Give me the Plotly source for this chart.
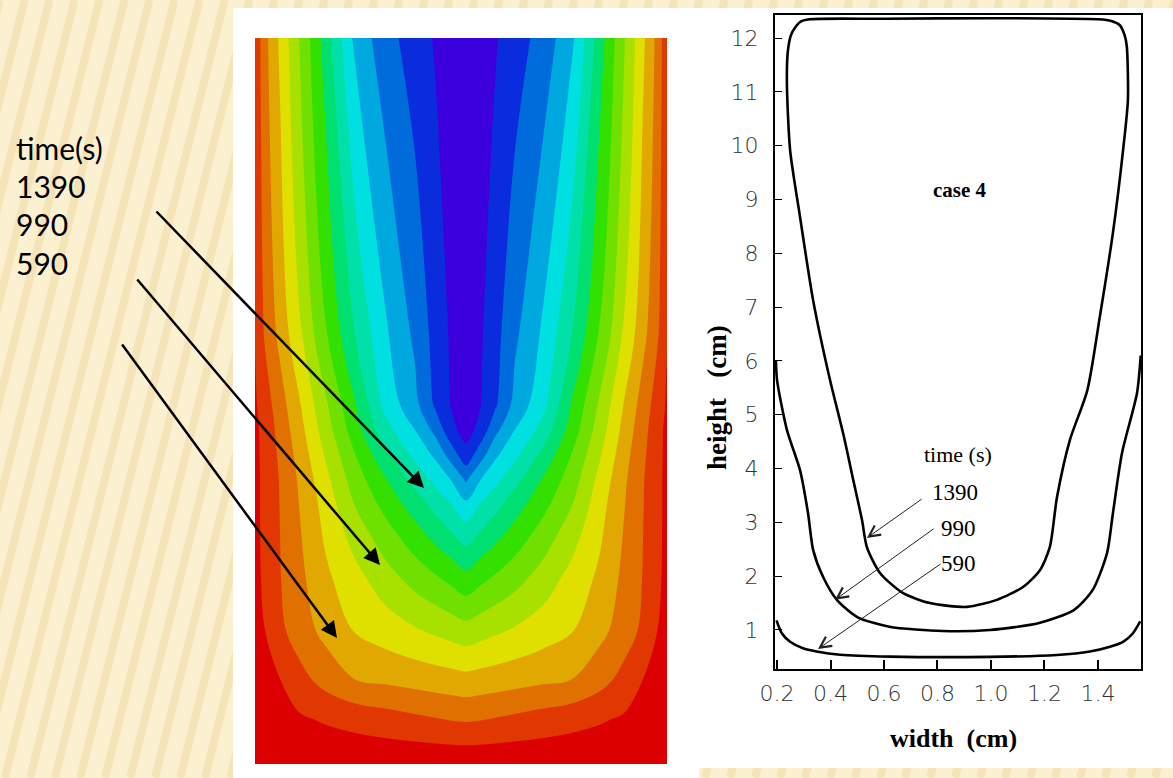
import plotly.graph_objects as go

W, H = 1173, 778

# ---------------- left panel: solidification field (band level) -------------
field_x = [0.0, 0.0243, 0.0607, 0.1092, 0.1699, 0.2427, 0.3155, 0.3883, 0.4369, 0.4782, 0.5121,
           0.5444, 0.5837, 0.6301, 0.6995, 0.7687, 0.8381, 0.8959, 0.9422, 0.9769, 1.0]
field_y = [0.0, 0.0193, 0.0606, 0.1157, 0.1846, 0.2534, 0.3223, 0.3567, 0.3912, 0.4256,
           0.4601, 0.4945, 0.5978, 1.0]
field_z = [
    [14.3] * 21,
    [14.2, 14.2, 14.15, 14.1, 14.0, 13.9, 13.85, 13.8, 13.75, 13.72, 13.7,
     13.72, 13.75, 13.8, 13.85, 13.9, 14.0, 14.1, 14.15, 14.2, 14.2],
    [14.15, 14.04, 13.87, 13.64, 13.41, 13.19, 12.97, 12.74, 12.59, 12.47, 12.42,
     12.47, 12.59, 12.74, 12.97, 13.19, 13.41, 13.64, 13.87, 14.04, 14.15],
    [14.1, 13.87, 13.52, 12.83, 12.16, 11.51, 11.32, 11.13, 11.01, 10.91, 10.82,
     10.91, 11.01, 11.13, 11.32, 11.51, 12.16, 12.83, 13.52, 13.87, 14.1],
    [14.0, 13.5, 12.71, 11.98, 11.21, 10.43, 10.01, 9.59, 9.31, 9.07, 8.87,
     9.07, 9.31, 9.59, 10.01, 10.43, 11.21, 11.98, 12.71, 13.5, 14.0],
    [13.8, 13.3, 12.55, 11.75, 10.73, 9.87, 8.99, 8.16, 7.7, 7.27, 6.88,
     7.27, 7.7, 8.16, 8.99, 9.87, 10.73, 11.75, 12.55, 13.3, 13.8],
    [13.76, 13.25, 12.5, 11.55, 10.33, 9.0, 7.82, 6.77, 6.04, 5.41, 4.87,
     5.41, 6.04, 6.77, 7.82, 9.0, 10.33, 11.55, 12.5, 13.25, 13.76],
    [13.76, 13.24, 12.47, 11.45, 10.14, 8.47, 7.21, 6.03, 5.2, 4.52, 3.75,
     4.52, 5.2, 6.03, 7.21, 8.47, 10.14, 11.45, 12.47, 13.24, 13.76],
    [13.76, 13.24, 12.44, 11.33, 9.83, 8.0, 6.61, 5.18, 4.26, 3.43, 2.37,
     3.43, 4.26, 5.18, 6.61, 8.0, 9.83, 11.33, 12.44, 13.24, 13.76],
    [13.76, 13.19, 12.32, 11.11, 9.43, 7.53, 5.79, 4.26, 3.33, 1.97, 0.87,
     1.97, 3.33, 4.26, 5.79, 7.53, 9.43, 11.11, 12.32, 13.19, 13.76],
    [13.75, 13.13, 12.17, 10.83, 9.03, 6.96, 4.88, 3.5, 2.23, 0.75, 0.1,
     0.75, 2.23, 3.5, 4.88, 6.96, 9.03, 10.83, 12.17, 13.13, 13.75],
    [13.63, 12.97, 11.95, 10.56, 8.71, 6.57, 4.23, 2.79, 1.38, 0.41, -0.2,
     0.41, 1.38, 2.79, 4.23, 6.57, 8.71, 10.56, 11.95, 12.97, 13.63],
    [13.45, 12.35, 11.17, 9.58, 7.58, 5.43, 3.65, 2.26, 1.15, 0.3, -0.4,
     0.3, 1.15, 2.26, 3.65, 5.43, 7.58, 9.58, 11.17, 12.35, 13.45],
    [13.3, 11.8, 10.32, 8.42, 6.1, 3.23, 1.91, 1.0, 0.41, -0.09, -0.5,
     -0.09, 0.41, 1.0, 1.91, 3.23, 6.1, 8.42, 10.32, 11.8, 13.3],
]
band_colors = ['#3C00DC', '#0A2CDC', '#006CDC', '#00A8E0', '#00E0E0', '#00E0A8', '#00E070',
               '#34E000', '#70E000', '#A8E000', '#E0E000', '#E0A800', '#E07000', '#E03800', '#DC0000']

# ---------------- right panel: solid/liquid interface curves -------------
x_1390 = [0.91, 0.772, 0.67, 0.585, 0.536, 0.518, 0.485, 0.447, 0.398, 0.335, 0.286, 0.249, 0.237,
          0.241, 0.255, 0.286, 0.323, 0.6, 1.0, 1.4, 1.45, 1.482, 1.5, 1.508, 1.512, 1.494, 1.456,
          1.407, 1.36, 1.295, 1.247, 1.22, 1.183, 1.12, 1.022, 0.91]
y_1390 = [1.43, 1.5, 1.69, 2.06, 2.54, 3.04, 3.79, 4.66, 5.65, 7.13, 8.68, 9.92, 11.17,
          11.78, 12.09, 12.3, 12.35, 12.36, 12.37, 12.35, 12.32, 12.24, 12.05, 11.84, 10.85, 9.92, 8.38,
          6.82, 5.45, 4.53, 3.47, 2.54, 2.11, 1.8, 1.56, 1.43]

x_990 = [0.196, 0.2, 0.237, 0.286, 0.316, 0.335, 0.372, 0.424, 0.5, 0.62, 0.82, 0.996, 1.18,
         1.31, 1.38, 1.434, 1.456, 1.49, 1.546, 1.56]
y_990 = [6.0, 5.65, 4.72, 3.97, 3.17, 2.49, 1.99, 1.56, 1.24, 1.06, 0.98, 1.0, 1.13,
         1.37, 1.74, 2.43, 3.17, 4.29, 5.4, 6.1]

x_590 = [0.198, 0.218, 0.249, 0.297, 0.348, 0.436, 0.622, 0.996, 1.246, 1.37, 1.445, 1.494, 1.531, 1.558]
y_590 = [1.18, 0.94, 0.78, 0.66, 0.6, 0.54, 0.505, 0.5, 0.535, 0.6, 0.69, 0.78, 0.94, 1.16]

x_ticks = [0.2, 0.4, 0.6, 0.8, 1.0, 1.2, 1.4]
x_tick_labels = ['0.2', '0.4', '0.6', '0.8', '1.0', '1.2', '1.4']
y_ticks = [1, 2, 3, 4, 5, 6, 7, 8, 9, 10, 11, 12]

time_labels = ['1390', '990', '590']
label_pos = [(0.865, 3.55), (0.88, 2.88), (0.877, 2.23)]
arrow_tail = [(0.746, 3.45), (0.791, 2.90), (0.817, 2.245)]
arrow_head = [(0.536, 2.71), (0.417, 1.56), (0.353, 0.647)]

fig = go.Figure()

fig.add_trace(go.Contour(
    x=field_x, y=field_y, z=field_z,
    colorscale=[[i / 14, c] for i, c in enumerate(band_colors)],
    contours=dict(start=0.5, end=13.5, size=1, coloring='fill'),
    line=dict(width=0, smoothing=1.0),
    showscale=False, hoverinfo='skip', xaxis='x', yaxis='y'))

for xs, ys in [(x_1390, y_1390), (x_990, y_990), (x_590, y_590)]:
    fig.add_trace(go.Scatter(x=xs, y=ys, mode='lines', xaxis='x2', yaxis='y2',
                             line=dict(color='black', width=2.6, shape='spline', smoothing=0.7),
                             showlegend=False, hoverinfo='skip'))

# ---------------- decoration: striped slide background + white panels -------------
shapes = []
for xb in range(-220, W + 20, 25):
    shapes.append(dict(type='line', xref='paper', yref='paper', layer='below',
                       x0=xb / W, y0=0, x1=(xb + 0.25 * H) / W, y1=1,
                       line=dict(color='rgba(228,192,118,0.24)', width=8)))
shapes.append(dict(type='rect', xref='paper', yref='paper', layer='below',
                   x0=233 / W, x1=699 / W, y0=0, y1=1 - 8 / H,
                   fillcolor='white', line=dict(width=0)))
shapes.append(dict(type='rect', xref='paper', yref='paper', layer='below',
                   x0=699 / W, x1=1, y0=1 - 768 / H, y1=1 - 8 / H,
                   fillcolor='white', line=dict(width=0)))

ann = []
left_text = ['time(s)'] + time_labels
left_text_y = [148, 186, 224, 263]
for t, py in zip(left_text, left_text_y):
    ann.append(dict(text=t, xref='paper', yref='paper', x=14 / W, y=1 - py / H,
                    xanchor='left', yanchor='middle', showarrow=False,
                    font=dict(family='Lato, Open Sans, sans-serif', size=30, color='black')))
left_heads = [(424, 488), (380, 565), (337, 638)]
left_tails = [(155, 210), (136, 278), (121, 343)]
for (hx, hy), (tx, ty) in zip(left_heads, left_tails):
    ann.append(dict(text='', xref='paper', yref='paper', x=hx / W, y=1 - hy / H,
                    ax=tx - hx, ay=ty - hy, showarrow=True, arrowhead=2,
                    arrowsize=1.3, arrowwidth=2.5, arrowcolor='black'))

serif = 'Liberation Serif, Times New Roman, serif'
ann.append(dict(text='<b>case 4</b>', xref='x2', yref='y2', x=0.884, y=9.18, showarrow=False,
                xanchor='center', yanchor='middle',
                font=dict(family=serif, size=21, color='black')))
ann.append(dict(text='time (s)', xref='x2', yref='y2', x=0.877, y=4.27, showarrow=False,
                xanchor='center', yanchor='middle',
                font=dict(family=serif, size=22, color='black')))
for t, (lx, ly) in zip(time_labels, label_pos):
    ann.append(dict(text=t, xref='x2', yref='y2', x=lx, y=ly, showarrow=False,
                    xanchor='center', yanchor='middle',
                    font=dict(family=serif, size=23, color='black')))
for (tx, ty), (hx, hy) in zip(arrow_tail, arrow_head):
    ann.append(dict(text='', xref='x2', yref='y2', axref='x2', ayref='y2',
                    x=hx, y=hy, ax=tx, ay=ty, showarrow=True, arrowhead=5,
                    arrowsize=2.2, arrowwidth=1, arrowcolor='#222'))
ann.append(dict(text='<b>width\u00a0 (cm)</b>', xref='paper', yref='paper', x=953 / W, y=1 - 738 / H,
                xanchor='center', yanchor='middle',
                showarrow=False, font=dict(family=serif, size=26, color='black')))
ann.append(dict(text='<b>height\u00a0\u00a0 (cm)</b>', xref='paper', yref='paper', x=717 / W, y=1 - 398 / H,
                xanchor='center', yanchor='middle',
                showarrow=False, textangle=-90, font=dict(family=serif, size=27, color='black')))

tickfont = dict(family='DejaVu Sans, Liberation Sans, sans-serif', size=22, color='#333', weight=300)

fig.update_layout(
    width=W, height=H, autosize=False,
    margin=dict(l=0, r=0, t=0, b=0, pad=0, autoexpand=False),
    paper_bgcolor='#FBF0CF', plot_bgcolor='white',
    showlegend=False,
    shapes=shapes, annotations=ann,
    xaxis=dict(domain=[255 / W, 667 / W], range=[0, 1], visible=False, fixedrange=True,
               automargin=False),
    yaxis=dict(domain=[1 - 764 / H, 1 - 38 / H], range=[0, 1], visible=False, fixedrange=True,
               automargin=False),
    xaxis2=dict(domain=[775 / W, 1141 / W], range=[0.1925, 1.561], anchor='y2', automargin=False,
                tickvals=x_ticks, ticktext=x_tick_labels, ticks='inside', ticklen=9,
                tickcolor='black', tickwidth=1.5,
                showline=True, mirror=True, linecolor='black', linewidth=2.2,
                showgrid=False, zeroline=False, tickfont=tickfont, ticklabelstandoff=3),
    yaxis2=dict(domain=[1 - 669 / H, 1 - 15 / H], range=[0.275, 12.43], anchor='x2', automargin=False,
                tickvals=y_ticks, ticks='inside', ticklen=7, tickcolor='black', tickwidth=1.2,
                showline=True, mirror=True, linecolor='black', linewidth=2.2,
                showgrid=False, zeroline=False, tickfont=tickfont, ticklabelstandoff=10),
)

fig.write_html('out.html')
